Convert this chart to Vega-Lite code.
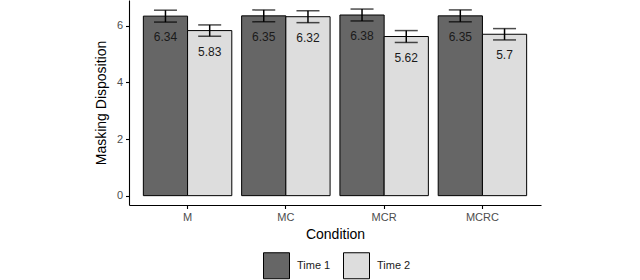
{
  "$schema": "https://vega.github.io/schema/vega-lite/v6.json",
  "autosize": {"type": "none"},
  "width": 412,
  "height": 205,
  "padding": {"left": 129, "top": 0, "right": 99, "bottom": 75},
  "background": "white",
  "config": {
    "view": {"stroke": null},
    "font": "Liberation Sans",
    "axis": {
      "domainColor": "black", "domainWidth": 1.1, "tickColor": "black", "tickWidth": 1.1,
      "tickSize": 3.5, "labelColor": "#4d4d4d", "labelFontSize": 11, "labelPadding": 3,
      "titleFontSize": 14, "titleFontWeight": "normal", "titleColor": "black", "grid": false
    }
  },
  "data": {
    "values": [
      {"Condition": "M", "Time": "Time 1", "mean": 6.34, "lo": 6.13, "hi": 6.55, "lab": "6.34"},
      {"Condition": "M", "Time": "Time 2", "mean": 5.83, "lo": 5.63, "hi": 6.03, "lab": "5.83"},
      {"Condition": "MC", "Time": "Time 1", "mean": 6.35, "lo": 6.14, "hi": 6.56, "lab": "6.35"},
      {"Condition": "MC", "Time": "Time 2", "mean": 6.32, "lo": 6.11, "hi": 6.53, "lab": "6.32"},
      {"Condition": "MCR", "Time": "Time 1", "mean": 6.38, "lo": 6.17, "hi": 6.59, "lab": "6.38"},
      {"Condition": "MCR", "Time": "Time 2", "mean": 5.62, "lo": 5.41, "hi": 5.83, "lab": "5.62"},
      {"Condition": "MCRC", "Time": "Time 1", "mean": 6.35, "lo": 6.14, "hi": 6.56, "lab": "6.35"},
      {"Condition": "MCRC", "Time": "Time 2", "mean": 5.7, "lo": 5.5, "hi": 5.9, "lab": "5.7"}
    ]
  },
  "encoding": {
    "x": {
      "field": "Condition", "type": "nominal", "sort": ["M", "MC", "MCR", "MCRC"],
      "scale": {"paddingInner": 0.1, "paddingOuter": 0.146},
      "axis": {"title": "Condition", "labelAngle": 0, "titlePadding": 5}
    },
    "xOffset": {"field": "Time", "type": "nominal", "scale": {"paddingInner": 0, "paddingOuter": 0}}
  },
  "layer": [
    {
      "mark": {"type": "bar", "stroke": "black", "strokeWidth": 1},
      "encoding": {
        "y": {
          "field": "mean", "type": "quantitative",
          "scale": {"domain": [-0.33, 6.91], "nice": false, "zero": false},
          "axis": {"title": "Masking Disposition", "values": [0, 2, 4, 6], "titlePadding": 8}
        },
        "y2": {"datum": 0},
        "fill": {
          "field": "Time", "type": "nominal",
          "scale": {"domain": ["Time 1", "Time 2"], "range": ["#666666", "#dddddd"]},
          "legend": {
            "title": null, "orient": "none", "legendX": 134, "legendY": 252, "direction": "horizontal",
            "symbolType": "square", "symbolSize": 676, "symbolStrokeColor": "black", "symbolStrokeWidth": 1,
            "labelFontSize": 11, "labelColor": "#1a1a1a", "labelOffset": 7, "columnPadding": 10
          }
        }
      }
    },
    {
      "mark": {"type": "rule", "color": "black", "strokeWidth": 1.5},
      "encoding": {"y": {"field": "lo", "type": "quantitative"}, "y2": {"field": "hi"}}
    },
    {
      "mark": {"type": "tick", "color": "black", "thickness": 1.5, "size": 23},
      "encoding": {"y": {"field": "lo", "type": "quantitative"}}
    },
    {
      "mark": {"type": "tick", "color": "black", "thickness": 1.5, "size": 23},
      "encoding": {"y": {"field": "hi", "type": "quantitative"}}
    },
    {
      "mark": {"type": "text", "fontSize": 12, "color": "#1a1a1a", "baseline": "middle", "dy": 21},
      "encoding": {"y": {"field": "mean", "type": "quantitative"}, "text": {"field": "lab"}}
    }
  ]
}
